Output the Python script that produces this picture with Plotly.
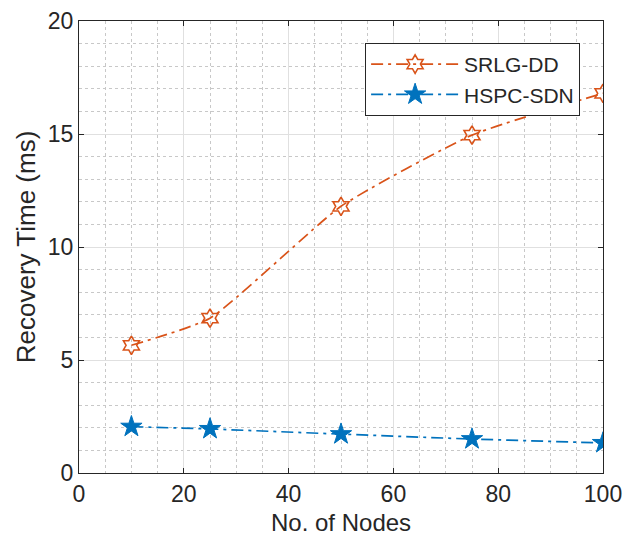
import plotly.graph_objects as go

nodes = [10, 25, 50, 75, 100]
srlg_dd = [5.65, 6.85, 11.8, 14.95, 16.8]
hspc_sdn = [2.05, 1.95, 1.72, 1.5, 1.33]

x_title = "No. of Nodes"
y_title = "Recovery Time (ms)"

orange = "#D95319"
blue = "#0072BD"
txt = "#262626"
font_family = "Liberation Sans, Arial"

fig = go.Figure()
fig.add_trace(go.Scatter(
    x=nodes, y=srlg_dd, name="SRLG-DD", mode="lines+markers",
    line=dict(color=orange, width=1.7, dash="12px,5px,3px,5px", shape="spline", smoothing=0.5),
    marker=dict(symbol="hexagram-open", size=14, color=orange, line=dict(width=1.6, color=orange)),
))
fig.add_trace(go.Scatter(
    x=nodes, y=hspc_sdn, name="HSPC-SDN", mode="lines+markers",
    line=dict(color=blue, width=1.7, dash="12px,5px,3px,5px"),
    marker=dict(symbol="star", size=16, color=blue, line=dict(width=1, color=blue)),
))

axis_common = dict(
    showline=True, linecolor=txt, linewidth=1.3, mirror="allticks",
    ticks="inside", ticklen=5, tickcolor=txt,
    showgrid=True, gridcolor="#E0E0E0", gridwidth=1,
    zeroline=False, automargin=False,
    tickfont=dict(family=font_family, size=23, color=txt),
)

fig.update_xaxes(
    range=[0, 100], dtick=20, tick0=0,
    minor=dict(dtick=5, showgrid=True, gridcolor="#C8C8C8", griddash="dot", gridwidth=1, ticks=""),
    **axis_common,
)
fig.update_yaxes(
    range=[0, 20], dtick=5, tick0=0,
    minor=dict(dtick=1, showgrid=True, gridcolor="#C8C8C8", griddash="dot", gridwidth=1, ticks=""),
    title=dict(text=y_title, font=dict(family=font_family, size=26, color=txt), standoff=4),
    **axis_common,
)

fig.add_annotation(
    text=x_title, xref="paper", yref="paper", x=0.5, y=-0.075,
    xanchor="center", yanchor="top", showarrow=False,
    font=dict(family=font_family, size=24, color=txt),
)

fig.update_layout(
    width=626, height=536,
    margin=dict(l=79, r=23, t=21, b=63),
    plot_bgcolor="white", paper_bgcolor="white",
    legend=dict(
        x=0.546, y=0.9515, xanchor="left", yanchor="top",
        bordercolor=txt, borderwidth=1, bgcolor="white",
        font=dict(family=font_family, size=21, color=txt),
        itemwidth=88, tracegroupgap=0,
    ),
)

fig.write_html("out.html")
